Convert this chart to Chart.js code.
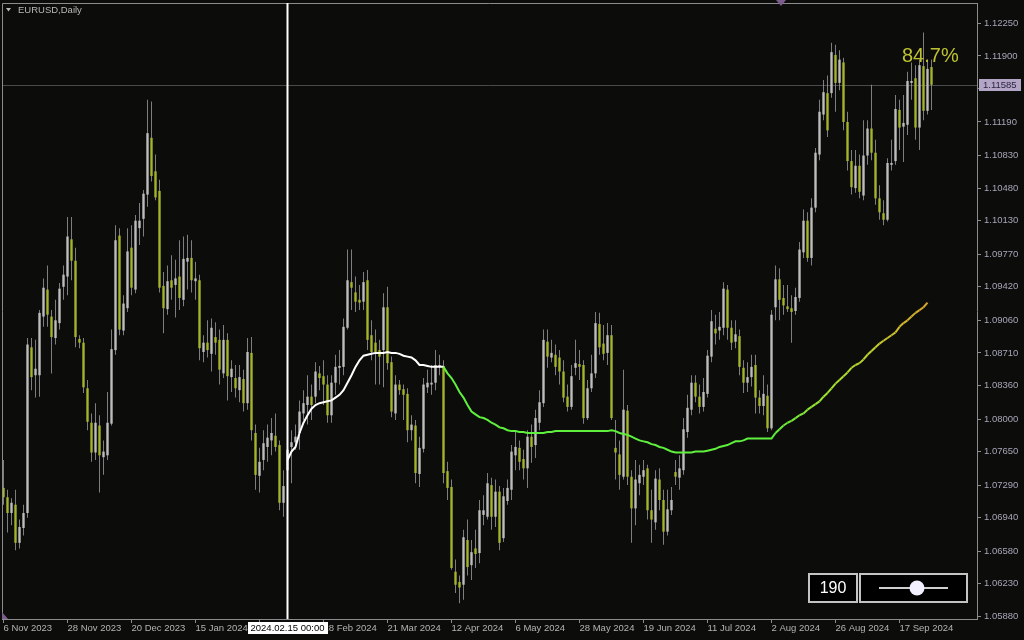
<!DOCTYPE html>
<html><head><meta charset="utf-8">
<script src="https://cdn.jsdelivr.net/npm/chart.js@4.4.1/dist/chart.umd.min.js"></script>
<style>html,body{margin:0;padding:0;background:#0c0c0a;overflow:hidden}canvas{display:block}</style>
</head><body>
<canvas id="c" width="1024" height="640"></canvas>
<script>
// ---- data ----
const dateLabels = ["6 Nov 2023","28 Nov 2023","20 Dec 2023","15 Jan 2024","6 Feb 2024","28 Feb 2024","21 Mar 2024","12 Apr 2024","6 May 2024","28 May 2024","19 Jun 2024","11 Jul 2024","2 Aug 2024","26 Aug 2024","17 Sep 2024"];
const barsPerDateLabel = 16;
const priceTicks = [1.0588,1.0623,1.0658,1.0694,1.0729,1.0765,1.0800,1.0836,1.0871,1.0906,1.0942,1.0977,1.1013,1.1048,1.1083,1.1119,1.1155,1.1190,1.1225];

const openP = [
1.0726,1.0716,1.0699,1.0708,1.0667,1.0683,1.0699,1.0877,1.0847,1.0847,
1.0910,1.0939,1.0910,1.0887,1.0903,1.0942,1.0953,1.0993,1.0970,1.0886,
1.0882,1.0833,1.0796,1.0764,1.0793,1.0759,1.0761,1.0795,1.0874,1.0997,
1.0895,1.0919,1.0984,1.0939,1.1005,1.1015,1.1041,1.1102,1.1066,1.1045,
1.0943,1.0918,1.0949,1.0944,1.0953,1.0928,1.0969,1.0973,1.0948,1.0949,
1.0872,1.0882,1.0870,1.0888,1.0885,1.0849,1.0885,1.0845,1.0844,1.0831,
1.0843,1.0817,1.0871,1.0785,1.0739,1.0756,1.0770,1.0777,1.0782,1.0772,
1.0710,1.0745,1.0770,1.0775,1.0785,1.0806,1.0815,1.0824,1.0824,1.0849,
1.0846,1.0837,1.0804,1.0839,1.0855,1.0856,1.0898,1.0947,1.0936,1.0928,
1.0926,1.0949,1.0890,1.0882,1.0874,1.0874,1.0920,1.0861,1.0806,1.0837,
1.0832,1.0827,1.0788,1.0793,1.0741,1.0768,1.0834,1.0837,1.0839,1.0856,
1.0857,1.0744,1.0727,1.0636,1.0625,1.0622,1.0670,1.0643,1.0661,1.0656,
1.0697,1.0695,1.0729,1.0695,1.0722,1.0672,1.0712,1.0724,1.0761,1.0769,
1.0757,1.0747,1.0781,1.0772,1.0796,1.0817,1.0883,1.0866,1.0869,1.0866,
1.0851,1.0824,1.0813,1.0855,1.0859,1.0858,1.0801,1.0833,1.0849,1.0902,
1.0881,1.0871,1.0890,1.0769,1.0762,1.0738,1.0809,1.0738,1.0704,1.0731,
1.0738,1.0747,1.0702,1.0689,1.0735,1.0713,1.0679,1.0702,1.0743,1.0737,
1.0745,1.0786,1.0810,1.0839,1.0824,1.0813,1.0827,1.0867,1.0897,1.0895,
1.0898,1.0939,1.0898,1.0883,1.0889,1.0855,1.0839,1.0845,1.0858,1.0823,
1.0814,1.0825,1.0790,1.0920,1.0950,1.0930,1.0921,1.0919,1.0916,1.0930,
1.0979,1.1013,1.0973,1.1027,1.1084,1.1127,1.1150,1.1150,1.1191,1.1161,
1.1183,1.1119,1.1077,1.1048,1.1072,1.1040,1.1083,1.1112,1.1086,1.1037,
1.1021,1.1014,1.1073,1.1077,1.1132,1.1114,1.1116,1.1161,1.1166,1.1113,
1.1179,1.1131,1.1178];

const highP = [
1.0756,1.0724,1.0715,1.0724,1.0692,1.0708,1.0887,1.0887,1.0885,1.0917,
1.0951,1.0965,1.0917,1.0928,1.0946,1.0965,1.1017,1.1017,1.0984,1.0890,
1.0887,1.0842,1.0806,1.0817,1.0804,1.0777,1.0829,1.0896,1.1008,1.1005,
1.0933,1.1005,1.1008,1.1019,1.1032,1.1046,1.1143,1.1141,1.1084,1.1057,
1.0958,1.0965,1.0976,1.0971,1.0992,1.0996,1.0998,1.0992,1.0969,1.0955,
1.0890,1.0906,1.0908,1.0904,1.0896,1.0901,1.0892,1.0863,1.0858,1.0858,
1.0853,1.0887,1.0888,1.0794,1.0769,1.0788,1.0794,1.0801,1.0806,1.0777,
1.0745,1.0777,1.0788,1.0794,1.0820,1.0831,1.0847,1.0837,1.0861,1.0857,
1.0863,1.0847,1.0847,1.0869,1.0874,1.0908,1.0982,1.0982,1.0953,1.0944,
1.0958,1.0960,1.0906,1.0896,1.0885,1.0935,1.0942,1.0867,1.0847,1.0842,
1.0837,1.0833,1.0804,1.0799,1.0781,1.0844,1.0853,1.0858,1.0874,1.0869,
1.0863,1.0754,1.0735,1.0649,1.0632,1.0681,1.0692,1.0670,1.0681,1.0713,
1.0718,1.0742,1.0737,1.0735,1.0728,1.0726,1.0735,1.0772,1.0786,1.0777,
1.0767,1.0788,1.0794,1.0810,1.0831,1.0896,1.0896,1.0885,1.0880,1.0874,
1.0863,1.0837,1.0858,1.0885,1.0874,1.0863,1.0842,1.0869,1.0915,1.0914,
1.0901,1.0903,1.0901,1.0799,1.0777,1.0853,1.0815,1.0745,1.0756,1.0751,
1.0756,1.0751,1.0724,1.0745,1.0747,1.0724,1.0724,1.0727,1.0756,1.0761,
1.0801,1.0826,1.0847,1.0847,1.0837,1.0844,1.0874,1.0917,1.0912,1.0915,
1.0947,1.0944,1.0906,1.0906,1.0896,1.0863,1.0861,1.0869,1.0869,1.0831,
1.0847,1.0837,1.0917,1.0965,1.0962,1.0944,1.0944,1.0933,1.0941,1.0990,
1.1025,1.1022,1.1037,1.1091,1.1143,1.1164,1.1169,1.1204,1.1202,1.1196,
1.1188,1.1130,1.1089,1.1089,1.1084,1.1121,1.1121,1.1159,1.1100,1.1051,
1.1035,1.1080,1.1100,1.1148,1.1143,1.1148,1.1173,1.1183,1.1180,1.1186,
1.1215,1.1186,1.1186];

const lowP = [
1.0708,1.0678,1.0686,1.0659,1.0661,1.0675,1.0694,1.0831,1.0823,1.0824,
1.0899,1.0899,1.0849,1.0880,1.0896,1.0928,1.0933,1.0949,1.0877,1.0876,
1.0828,1.0788,1.0754,1.0756,1.0721,1.0740,1.0756,1.0793,1.0869,1.0890,
1.0890,1.0915,1.0933,1.0935,1.0987,1.0996,1.1028,1.1055,1.1035,1.0936,
1.0892,1.0912,1.0928,1.0909,1.0917,1.0921,1.0939,1.0936,1.0928,1.0863,
1.0861,1.0866,1.0851,1.0869,1.0837,1.0844,1.0820,1.0829,1.0823,1.0818,
1.0808,1.0810,1.0777,1.0724,1.0721,1.0745,1.0754,1.0761,1.0765,1.0702,
1.0695,1.0729,1.0731,1.0767,1.0767,1.0799,1.0794,1.0799,1.0817,1.0831,
1.0815,1.0796,1.0796,1.0826,1.0837,1.0847,1.0896,1.0917,1.0915,1.0917,
1.0917,1.0874,1.0863,1.0837,1.0837,1.0834,1.0853,1.0802,1.0799,1.0826,
1.0799,1.0775,1.0777,1.0731,1.0727,1.0764,1.0828,1.0826,1.0831,1.0847,
1.0731,1.0713,1.0638,1.0613,1.0602,1.0606,1.0632,1.0627,1.0640,1.0645,
1.0686,1.0692,1.0681,1.0684,1.0659,1.0668,1.0708,1.0713,1.0745,1.0745,
1.0735,1.0726,1.0753,1.0758,1.0788,1.0813,1.0855,1.0861,1.0847,1.0837,
1.0818,1.0808,1.0810,1.0847,1.0842,1.0795,1.0799,1.0829,1.0844,1.0869,
1.0863,1.0858,1.0799,1.0735,1.0724,1.0735,1.0729,1.0667,1.0686,1.0718,
1.0729,1.0692,1.0667,1.0681,1.0702,1.0665,1.0675,1.0697,1.0729,1.0724,
1.0740,1.0780,1.0804,1.0818,1.0806,1.0808,1.0823,1.0861,1.0880,1.0885,
1.0890,1.0885,1.0874,1.0876,1.0847,1.0828,1.0829,1.0835,1.0806,1.0806,
1.0804,1.0786,1.0788,1.0906,1.0906,1.0912,1.0915,1.0882,1.0912,1.0926,
1.0973,1.0969,1.0965,1.1022,1.1078,1.1121,1.1103,1.1145,1.1130,1.1153,
1.1110,1.1067,1.1041,1.1043,1.1037,1.1035,1.1073,1.1078,1.1030,1.1014,
1.1008,1.1012,1.1067,1.1073,1.1089,1.1076,1.1105,1.1143,1.1100,1.1089,
1.1121,1.1127,1.1132];

const closeP = [
1.0716,1.0699,1.0710,1.0667,1.0684,1.0699,1.0880,1.0845,1.0854,1.0914,
1.0941,1.0912,1.0888,1.0906,1.0940,1.0955,1.0996,1.0970,1.0888,1.0882,
1.0834,1.0797,1.0764,1.0796,1.0761,1.0765,1.0796,1.0875,1.0992,1.0896,
1.0924,1.0980,1.0941,1.1013,1.1013,1.1042,1.1107,1.1061,1.1038,1.0941,
1.0919,1.0948,1.0941,1.0951,1.0930,1.0972,1.0973,1.0949,1.0951,1.0876,
1.0882,1.0874,1.0898,1.0882,1.0853,1.0885,1.0846,1.0854,1.0833,1.0845,
1.0817,1.0872,1.0788,1.0740,1.0754,1.0774,1.0780,1.0785,1.0770,1.0710,
1.0728,1.0767,1.0775,1.0781,1.0808,1.0817,1.0824,1.0815,1.0851,1.0844,
1.0837,1.0804,1.0839,1.0856,1.0857,1.0899,1.0949,1.0941,1.0926,1.0925,
1.0947,1.0885,1.0872,1.0872,1.0867,1.0920,1.0860,1.0808,1.0837,1.0831,
1.0826,1.0788,1.0794,1.0742,1.0769,1.0837,1.0839,1.0839,1.0858,1.0858,
1.0742,1.0726,1.0640,1.0622,1.0619,1.0673,1.0641,1.0657,1.0655,1.0702,
1.0702,1.0731,1.0695,1.0722,1.0667,1.0717,1.0726,1.0765,1.0770,1.0754,
1.0747,1.0781,1.0770,1.0801,1.0818,1.0885,1.0867,1.0871,1.0856,1.0851,
1.0823,1.0813,1.0846,1.0860,1.0856,1.0801,1.0833,1.0849,1.0903,1.0877,
1.0870,1.0890,1.0801,1.0764,1.0740,1.0810,1.0738,1.0704,1.0735,1.0740,
1.0745,1.0702,1.0692,1.0736,1.0713,1.0679,1.0703,1.0713,1.0738,1.0747,
1.0789,1.0812,1.0839,1.0824,1.0813,1.0829,1.0868,1.0905,1.0892,1.0899,
1.0940,1.0898,1.0882,1.0891,1.0856,1.0839,1.0845,1.0856,1.0823,1.0814,
1.0827,1.0790,1.0912,1.0950,1.0928,1.0922,1.0918,1.0915,1.0931,1.0982,
1.1013,1.0973,1.1027,1.1086,1.1130,1.1151,1.1110,1.1194,1.1161,1.1186,
1.1119,1.1077,1.1049,1.1072,1.1044,1.1083,1.1112,1.1086,1.1037,1.1022,
1.1014,1.1075,1.1075,1.1133,1.1113,1.1118,1.1163,1.1163,1.1113,1.1180,
1.1131,1.1176,1.1159];

// anchored average, starting at the bar of 2024.02.15
const vwapStartBar = 71;
const vwapValues = [
1.0756,1.0765,1.0770,1.0785,1.0796,1.0804,1.0811,1.0815,1.0817,1.0818,
1.0819,1.0820,1.0823,1.0826,1.0831,1.0839,1.0847,1.0856,1.0863,1.0868,
1.0869,1.0870,1.0871,1.0871,1.0871,1.0872,1.0871,1.0871,1.0870,1.0868,
1.0867,1.0866,1.0863,1.0858,1.0858,1.0857,1.0856,1.0856,1.0856,1.0856,
1.0849,1.0844,1.0837,1.0829,1.0823,1.0815,1.0808,1.0805,1.0802,1.0801,
1.0799,1.0796,1.0794,1.0791,1.0790,1.0788,1.0787,1.0787,1.0786,1.0786,
1.0785,1.0785,1.0785,1.0785,1.0785,1.0786,1.0786,1.0787,1.0787,1.0787,
1.0787,1.0787,1.0787,1.0787,1.0787,1.0787,1.0787,1.0787,1.0787,1.0787,
1.0787,1.0788,1.0787,1.0785,1.0784,1.0783,1.0781,1.0779,1.0777,1.0776,
1.0775,1.0773,1.0772,1.0770,1.0769,1.0767,1.0765,1.0764,1.0764,1.0764,
1.0764,1.0764,1.0765,1.0765,1.0765,1.0766,1.0767,1.0768,1.0770,1.0771,
1.0772,1.0774,1.0776,1.0776,1.0777,1.0779,1.0779,1.0779,1.0779,1.0779,
1.0779,1.0779,1.0785,1.0789,1.0793,1.0796,1.0798,1.0801,1.0804,1.0806,
1.0810,1.0813,1.0816,1.0819,1.0824,1.0828,1.0833,1.0838,1.0842,1.0846,
1.0850,1.0855,1.0858,1.0860,1.0864,1.0869,1.0873,1.0877,1.0881,1.0884,
1.0887,1.0890,1.0893,1.0899,1.0903,1.0906,1.0910,1.0914,1.0917,1.0920,
1.0925];

const lastPrice = 1.11585;
const anchorLabel = "2024.02.15 00:00";
const chartTitle = "EURUSD,Daily";
const percentText = "84.7%";
const periodText = "190";

// ---- styles ----
const BG = '#0c0c0a';
const UP = '#bdbdbd';
const DOWN = '#a6b32c';
const WICK = '#9c9c9c';
const AXIS = '#8c8c8c';
const FONT = '"Liberation Sans", Arial, sans-serif';

function vwapColor(i) {
  if (i < 110) return '#ffffff';
  if (i < 192) return 'rgb(94,240,60)';
  const stops = [[192,[94,240,60]],[205,[160,228,50]],[218,[196,205,45]],[231,[216,162,45]]];
  for (let k = 1; k < stops.length; k++) {
    if (i <= stops[k][0]) {
      const a = stops[k-1], b = stops[k];
      const t = (i - a[0]) / (b[0] - a[0]);
      const c = a[1].map((v, j) => Math.round(v + (b[1][j] - v) * t));
      return `rgb(${c[0]},${c[1]},${c[2]})`;
    }
  }
  return 'rgb(216,162,45)';
}

const idx = openP.map((_, i) => i);
const wickData = idx.map(i => ({x: i, y: [lowP[i], highP[i]]}));
const bodyData = idx.map(i => ({x: i, y: [openP[i], closeP[i]]}));
const vwapData = vwapValues.map((v, k) => ({x: k + vwapStartBar, y: v}));

const overlay = {
  id: 'overlay',
  beforeDraw(chart) {
    const c = chart.ctx;
    c.save(); c.fillStyle = BG; c.fillRect(0, 0, chart.width, chart.height); c.restore();
  },
  beforeDatasetsDraw(chart) {
    const c = chart.ctx, a = chart.chartArea, ys = chart.scales.y;
    const y = Math.round(ys.getPixelForValue(lastPrice)) + 0.5;
    c.save();
    c.strokeStyle = '#4a4a4a'; c.lineWidth = 1;
    c.beginPath(); c.moveTo(a.left, y); c.lineTo(a.right, y); c.stroke();
    c.restore();
  },
  afterDraw(chart) {
    const c = chart.ctx, a = chart.chartArea, xs = chart.scales.x, ys = chart.scales.y;
    c.save();
    // frame top/left
    c.strokeStyle = AXIS; c.lineWidth = 1;
    c.beginPath(); c.moveTo(a.left + 0.5, a.bottom); c.lineTo(a.left + 0.5, a.top + 0.5); c.lineTo(a.right, a.top + 0.5); c.stroke();
    // anchor vertical line
    const ax = xs.getPixelForValue(vwapStartBar);
    c.fillStyle = '#ffffff';
    c.fillRect(Math.round(ax) - 1.5, a.top, 2, a.bottom - a.top);
    // anchor date box
    c.font = '9.5px ' + FONT;
    const tw = c.measureText(anchorLabel).width;
    c.fillStyle = '#ffffff';
    c.fillRect(Math.round(ax - tw / 2 - 3), 622, Math.round(tw + 6), 12);
    c.fillStyle = '#000000'; c.textAlign = 'center'; c.textBaseline = 'middle';
    c.fillText(anchorLabel, ax, 628.5);
    // last price box
    const py = ys.getPixelForValue(lastPrice);
    c.fillStyle = '#b3a5c6';
    c.fillRect(979, Math.round(py) - 6, 42, 12);
    c.fillStyle = '#2c2440'; c.textAlign = 'left';
    c.fillText(lastPrice.toFixed(5), 983, Math.round(py) + 0.5);
    // title
    c.fillStyle = '#b8b8b8';
    c.beginPath(); c.moveTo(6, 8); c.lineTo(11, 8); c.lineTo(8.5, 11.5); c.closePath(); c.fill();
    c.fillText(chartTitle, 18, 10.5);
    // percent text
    c.font = '20px ' + FONT; c.fillStyle = '#bec232';
    c.fillText(percentText, 902, 56);
    // period widget
    c.fillStyle = '#000000';
    c.fillRect(809, 574, 48, 28); c.fillRect(860, 574, 107, 28);
    c.strokeStyle = '#c4c4c4'; c.lineWidth = 2;
    c.strokeRect(809, 574, 48, 28); c.strokeRect(860, 574, 107, 28);
    c.fillStyle = '#ffffff'; c.font = '16px ' + FONT; c.textAlign = 'center';
    c.fillText(periodText, 833, 589);
    c.strokeStyle = '#cfcfcf'; c.lineWidth = 2;
    c.beginPath(); c.moveTo(879, 588); c.lineTo(948, 588); c.stroke();
    c.fillStyle = '#f2efff';
    c.beginPath(); c.arc(917, 588, 7.5, 0, Math.PI * 2); c.fill();
    // small markers
    c.fillStyle = '#7c5c8c';
    c.beginPath(); c.moveTo(776, 0); c.lineTo(786, 0); c.lineTo(781, 6); c.closePath(); c.fill();
    c.beginPath(); c.moveTo(2, 612); c.lineTo(8, 619); c.lineTo(2, 619); c.closePath(); c.fill();
    c.restore();
  }
};

new Chart(document.getElementById('c'), {
  type: 'bar',
  data: {
    datasets: [
      {type: 'bar', data: wickData, backgroundColor: WICK, borderWidth: 0, grouped: false,
       barPercentage: 0.25, maxBarThickness: 1, order: 3},
      {type: 'bar', data: bodyData, borderWidth: 0, grouped: false, barPercentage: 0.75, maxBarThickness: 3,
       minBarLength: 1, order: 2,
       backgroundColor: ctx => closeP[ctx.dataIndex] >= openP[ctx.dataIndex] ? UP : DOWN},
      {type: 'line', data: vwapData, borderColor: '#ffffff', borderWidth: 2, pointRadius: 0, tension: 0,
       order: 1, segment: {borderColor: ctx => vwapColor(ctx.p0DataIndex + vwapStartBar)}}
    ]
  },
  options: {
    responsive: false, animation: false, devicePixelRatio: 1,
    layout: {padding: {top: 3, left: 2, right: 0, bottom: 0}},
    plugins: {legend: {display: false}, tooltip: {enabled: false}},
    scales: {
      x: {
        type: 'linear', min: -0.375, max: 243.375, offset: false,
        afterBuildTicks: s => { s.ticks = dateLabels.map((_, k) => ({value: k * barsPerDateLabel})); },
        afterFit: s => { s.height = 21; s.paddingLeft = 0; s.paddingRight = 0; },
        grid: {drawOnChartArea: false, drawTicks: true, tickLength: 4, color: AXIS, offset: false},
        border: {display: true, color: AXIS, width: 1},
        ticks: {autoSkip: false, maxRotation: 0, minRotation: 0, align: 'start', padding: 0, color: '#b4b4b4',
                font: {family: FONT, size: 9.5},
                callback: v => dateLabels[Math.round(v / barsPerDateLabel)]}
      },
      y: {
        type: 'linear', position: 'right', min: 1.05852, max: 1.12468,
        afterBuildTicks: s => { s.ticks = priceTicks.map(v => ({value: v})); },
        afterFit: s => { s.width = 47; s.paddingTop = 0; s.paddingBottom = 0; },
        grid: {drawOnChartArea: false, drawTicks: true, tickLength: 4, color: AXIS},
        border: {display: true, color: AXIS, width: 1},
        ticks: {padding: 3, color: '#a6a6b8', font: {family: FONT, size: 9.5}, callback: v => v.toFixed(5)}
      }
    }
  },
  plugins: [overlay]
});
</script>
</body></html>
